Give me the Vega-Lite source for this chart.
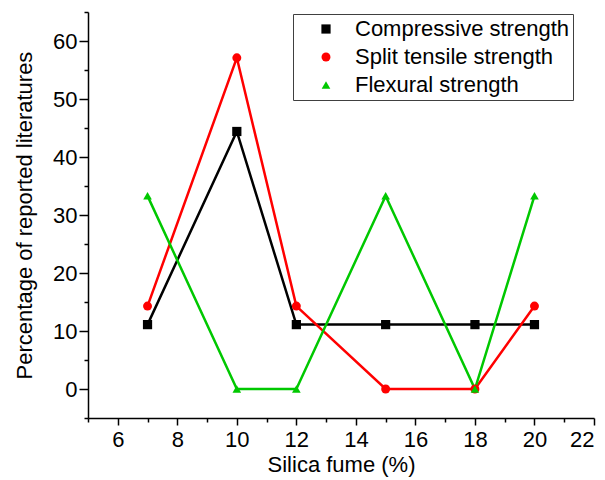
{
  "$schema": "https://vega.github.io/schema/vega-lite/v6.json",
  "autosize": "none",
  "width": 506,
  "height": 406,
  "padding": {"left": 88, "top": 12, "right": 11, "bottom": 62},
  "background": "white",
  "config": {
    "view": {"stroke": null},
    "font": "Liberation Sans",
    "axis": {"domainColor": "black", "tickColor": "black", "domainWidth": 1.5, "tickWidth": 1.5, "grid": false, "labelColor": "black", "titleColor": "black", "labelFont": "Liberation Sans", "titleFont": "Liberation Sans", "titleFontWeight": "normal"}
  },
  "data": {"values": [
    {"sf": 7, "p": 11.1, "s": "Compressive strength"},
    {"sf": 10, "p": 44.4, "s": "Compressive strength"},
    {"sf": 12, "p": 11.1, "s": "Compressive strength"},
    {"sf": 15, "p": 11.1, "s": "Compressive strength"},
    {"sf": 18, "p": 11.1, "s": "Compressive strength"},
    {"sf": 20, "p": 11.1, "s": "Compressive strength"},
    {"sf": 7, "p": 14.3, "s": "Split tensile strength"},
    {"sf": 10, "p": 57.1, "s": "Split tensile strength"},
    {"sf": 12, "p": 14.3, "s": "Split tensile strength"},
    {"sf": 15, "p": 0, "s": "Split tensile strength"},
    {"sf": 18, "p": 0, "s": "Split tensile strength"},
    {"sf": 20, "p": 14.3, "s": "Split tensile strength"},
    {"sf": 7, "p": 33.3, "s": "Flexural strength"},
    {"sf": 10, "p": 0, "s": "Flexural strength"},
    {"sf": 12, "p": 0, "s": "Flexural strength"},
    {"sf": 15, "p": 33.3, "s": "Flexural strength"},
    {"sf": 18, "p": 0, "s": "Flexural strength"},
    {"sf": 20, "p": 33.3, "s": "Flexural strength"}
  ]},
  "encoding": {
    "x": {"field": "sf", "type": "quantitative", "scale": {"domain": [5, 22], "nice": false, "zero": false},
      "axis": {"title": "Silica fume (%)", "titleFontSize": 22, "titlePadding": 4, "labelFontSize": 22, "labelPadding": 4,
        "values": [5,6,7,8,9,10,11,12,13,14,15,16,17,18,19,20,21,22],
        "labelExpr": "datum.value % 2 == 0 ? datum.label : ''",
        "tickSize": {"condition": {"test": "datum.value % 2 == 0", "value": 7}, "value": 4}}},
    "y": {"field": "p", "type": "quantitative", "scale": {"domain": [-5, 65], "nice": false, "zero": false},
      "axis": {"title": "Percentage of reported literatures", "titleFontSize": 22, "titlePadding": 16, "labelFontSize": 22, "labelPadding": 2,
        "values": [-5,0,5,10,15,20,25,30,35,40,45,50,55,60,65],
        "labelExpr": "datum.value % 10 == 0 ? datum.label : ''",
        "tickSize": {"condition": {"test": "datum.value % 10 == 0", "value": 9}, "value": 4}}},
    "color": {"field": "s", "type": "nominal",
      "scale": {"domain": ["Compressive strength", "Split tensile strength", "Flexural strength"], "range": ["#000000", "#ff0000", "#00c800"]},
      "legend": {"title": null, "orient": "none", "legendX": 205, "legendY": 2, "padding": 4,
        "strokeColor": "#404040", "labelFontSize": 22, "labelFont": "Liberation Sans", "labelColor": "black", "labelLimit": 400,
        "symbolSize": 100, "symbolOffset": 18, "labelOffset": 18, "rowPadding": 6, "symbolStrokeWidth": 0}
    }
  },
  "layer": [
    {"mark": {"type": "line", "strokeWidth": 2.5}},
    {"mark": {"type": "point", "filled": true, "opacity": 1},
      "encoding": {
        "shape": {"field": "s", "type": "nominal", "scale": {"domain": ["Compressive strength", "Split tensile strength", "Flexural strength"], "range": ["square", "circle", "triangle-up"]}, "legend": null},
        "size": {"field": "s", "type": "nominal", "scale": {"domain": ["Compressive strength", "Split tensile strength", "Flexural strength"], "range": [85, 75, 110]}, "legend": null}
      }}
  ]
}
